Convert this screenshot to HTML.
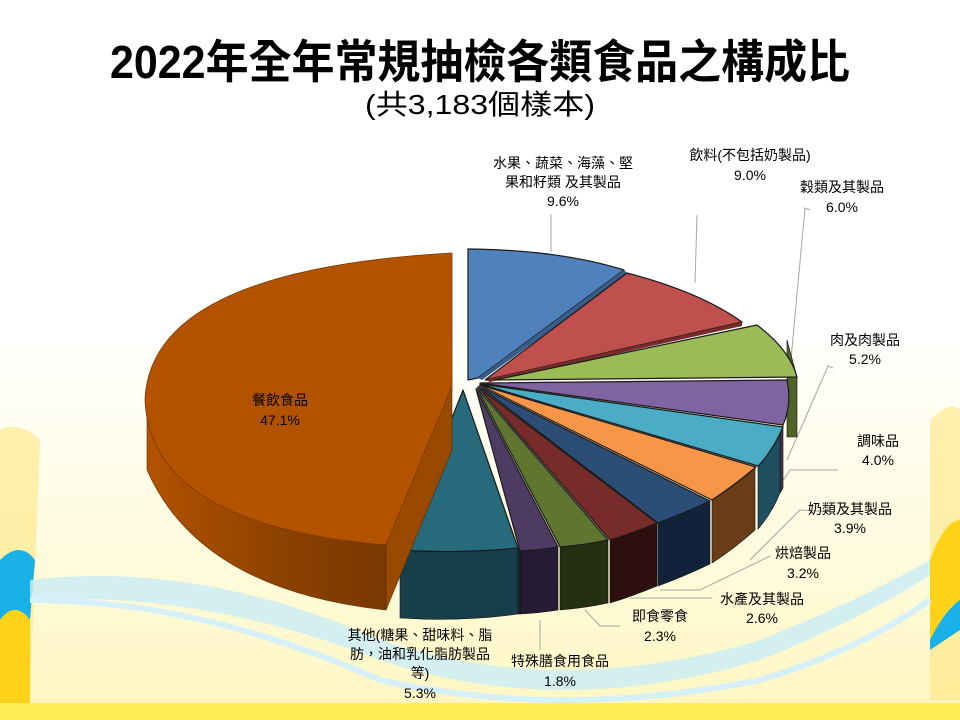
<!DOCTYPE html>
<html><head><meta charset="utf-8"><style>
html,body{margin:0;padding:0;width:960px;height:720px;overflow:hidden;}
svg{display:block}
text{font-family:"Liberation Sans","Noto Sans CJK TC",sans-serif;fill:#000}
</style></head><body>
<svg width="960" height="720" viewBox="0 0 960 720" xmlns="http://www.w3.org/2000/svg">
<defs>
<linearGradient id="bg" x1="0" y1="0" x2="0" y2="1">
<stop offset="0" stop-color="#ffffff"/><stop offset="0.45" stop-color="#ffffff"/><stop offset="0.75" stop-color="#fffbe0"/><stop offset="1" stop-color="#fff6c0"/>
</linearGradient>
<linearGradient id="oside" x1="0" y1="0" x2="1" y2="0">
<stop offset="0" stop-color="#b35300"/><stop offset="0.6" stop-color="#8a4000"/><stop offset="1" stop-color="#7a3800"/>
</linearGradient>
</defs>
<rect width="960" height="720" fill="url(#bg)"/>
<!-- decorative background -->
<path d="M0 430 Q20 420 40 440 L30 700 L0 700Z" fill="#ffe680" opacity="0.6"/>
<path d="M0 560 Q20 540 35 560 L30 620 Q15 600 0 620Z" fill="#1ab0e8"/>
<path d="M0 620 Q15 600 30 620 L30 705 L0 705Z" fill="#ffd21a"/>
<path d="M930 420 Q950 400 960 410 L960 700 L930 700Z" fill="#ffe680" opacity="0.6"/>
<path d="M930 560 Q945 520 960 520 L960 600 Q945 610 930 640Z" fill="#ffd21a"/>
<path d="M930 640 Q945 610 960 600 L960 630 Q945 640 930 650Z" fill="#1ab0e8"/>
<path d="M30 580 Q200 560 380 640 Q560 700 760 640 Q860 600 930 560 L930 575 Q860 620 760 660 Q560 720 380 660 Q200 590 30 600Z" fill="#c8ecf8" opacity="0.8"/>
<path d="M30 600 Q200 600 380 680 Q560 720 760 680 Q860 650 930 600" fill="none" stroke="#d6f0fa" stroke-width="6"/>
<rect x="0" y="703" width="960" height="17" fill="#ffee55"/>

<text x="480" y="78" font-size="46" font-weight="bold" text-anchor="middle" textLength="740" lengthAdjust="spacingAndGlyphs">2022年全年常規抽檢各類食品之構成比</text>
<text x="480" y="114" font-size="28" text-anchor="middle" textLength="230" lengthAdjust="spacingAndGlyphs">(共3,183個樣本)</text>

<!-- leader lines -->
<g stroke="#a6a6a6" stroke-width="1" fill="none">
<path d="M551 214 L551 252"/>
<path d="M697 215 L695 283"/>
<path d="M810 210 L805 208 L790 370"/>
<path d="M833 368 L828 366 L787 460"/>
<path d="M838 470 L790 470 L770 500"/>
<path d="M835 512 L800 510 L750 560"/>
<path d="M770 556 L700 590 L660 590"/>
<path d="M712 598 L630 598"/>
<path d="M620 626 L600 626 L585 610"/>
<path d="M540 650 L540 620"/>
</g>

<!-- back sides of right slices -->
<g stroke="#111" stroke-width="0.6">
<path d="M787 340 L797 377 L797 437 L787 437Z" fill="#4f6228"/>
<path d="M783 425 L780 430 L780 493 L783 488Z" fill="#403152"/>
<path d="M780 430 Q772 450 758 466 L758 529 Q772 513 780 493Z" fill="#1f4f5c"/>
<path d="M755 467 Q735 485 712 500 L712 563 Q735 548 755 530Z" fill="#6a3d18"/>
<path d="M710 501 Q685 513 658 523 L658 586 Q685 576 710 564Z" fill="#10233a"/>
<path d="M657 523 Q633 533 610 540 L610 603 Q633 596 657 586Z" fill="#2d0f10"/>
<path d="M608 540 Q585 545 560 547 L560 610 Q585 608 608 603Z" fill="#243010"/>
<path d="M558 547 Q540 550 520 551 L520 614 Q540 613 558 610Z" fill="#251c33"/>
<path d="M518 548 Q460 554 400 550 L400 618 Q460 622 518 614Z" fill="#173f4a"/>
<path d="M518 548 L520 551 L520 614 L518 614Z" fill="#102c34"/>
</g>

<!-- tops -->
<g stroke="#1a1a1a" stroke-width="1.2" stroke-linejoin="round">
<path d="M468 380 L468 249 Q560 250 624 270 L478 378Z" fill="#4f81bd"/>
<path d="M624 270 L628 274 L482 380 L478 378Z" fill="#385d8a" stroke="none"/>
<path d="M485 380 L627 273 Q700 292 742 322 Z" fill="#c0504d"/>
<path d="M742 322 L742 326 L490 382 L485 380Z" fill="#772c2a" stroke="none"/>
<path d="M495 380 L757 325 Q790 350 797 377 Z" fill="#9bbb59"/>
<path d="M480 383 L787 380 Q792 405 783 425 Z" fill="#8064a2"/>
<path d="M480 384 L783 427 Q772 452 758 466 Z" fill="#4bacc6"/>
<path d="M480 385 L756 467 Q735 485 712 500 Z" fill="#f79646"/>
<path d="M479 386 L710 501 Q685 513 658 523 Z" fill="#2c4d75"/>
<path d="M478 387 L657 523 Q633 533 610 540 Z" fill="#772c2a"/>
<path d="M477 388 L608 540 Q585 545 560 547 Z" fill="#5f7530"/>
<path d="M476 389 L558 547 Q540 550 520 551 Z" fill="#4d3b62"/>
<path d="M463 390 L518 548 Q460 554 400 550 Z" fill="#276a7c"/>
</g>

<!-- big orange slice -->
<path d="M147 405 Q150 520 386 545 L386 610 Q200 590 147 470Z" fill="url(#oside)" stroke="#5a2a00" stroke-width="0.6"/>
<path d="M452 386 L386 545 L386 610 L452 450Z" fill="#9a4a00" stroke="#5a2a00" stroke-width="0.6"/>
<path d="M452 253 L452 386 L386 545 Q150 525 145 400 Q150 270 452 253Z" fill="#b35300" stroke="#7a3a00" stroke-width="0.8"/>

<!-- labels -->
<g font-size="14" text-anchor="middle">
<text x="563" y="168">水果、蔬菜、海藻、堅</text>
<text x="563" y="187">果和籽類 及其製品</text>
<text x="563" y="206">9.6%</text>
<text x="750" y="160">飲料(不包括奶製品)</text>
<text x="750" y="180">9.0%</text>
<text x="842" y="192">穀類及其製品</text>
<text x="842" y="212">6.0%</text>
<text x="865" y="345">肉及肉製品</text>
<text x="865" y="364">5.2%</text>
<text x="878" y="446">調味品</text>
<text x="878" y="465">4.0%</text>
<text x="850" y="514">奶類及其製品</text>
<text x="850" y="533">3.9%</text>
<text x="803" y="558">烘焙製品</text>
<text x="803" y="578">3.2%</text>
<text x="762" y="604">水產及其製品</text>
<text x="762" y="623">2.6%</text>
<text x="660" y="621">即食零食</text>
<text x="660" y="641">2.3%</text>
<text x="420" y="640">其他(糖果、甜味料、脂</text>
<text x="420" y="659">肪，油和乳化脂肪製品</text>
<text x="420" y="678">等)</text>
<text x="420" y="698">5.3%</text>
<text x="560" y="666">特殊膳食用食品</text>
<text x="560" y="686">1.8%</text>
<text x="280" y="405">餐飲食品</text>
<text x="280" y="425">47.1%</text>
</g>
</svg>
</body></html>
